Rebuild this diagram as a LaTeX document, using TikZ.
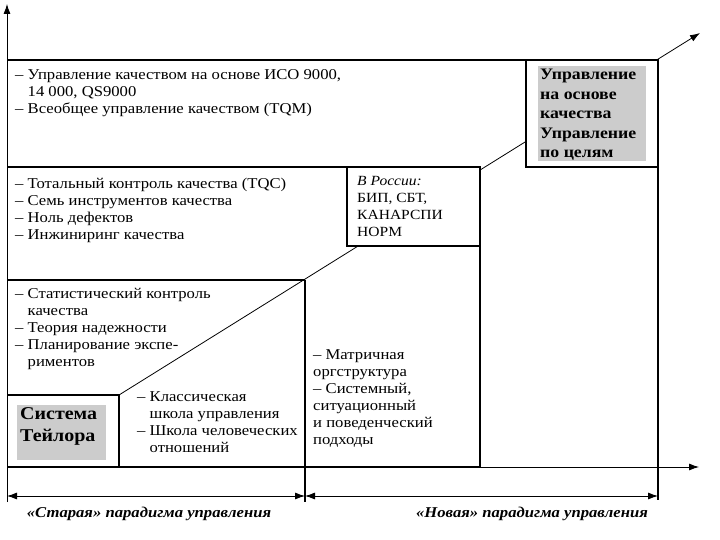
\documentclass[tikz,border=0pt]{standalone}
\usepackage{fontspec}
\setmainfont[FakeStretch=1.11]{Liberation Serif}
\usetikzlibrary{arrows.meta}

\tikzset{
  txt/.style={anchor=north west, inner sep=0pt, align=left,
    font=\fontsize{15}{17}\selectfont},
  frame/.style={line width=1.2pt},
  tip/.style={-{Latex[length=10pt,width=7pt]}},
  shade/.style={fill=black!20, draw=none},
}
\newcommand{\dsh}{\hphantom{-- }}

\begin{document}
\begin{tikzpicture}[x=1pt,y=-1pt]
  \useasboundingbox[fill=white] (0,0) rectangle (720,540);

  % axes
  \draw[tip, line width=0.8pt] (7,502) -- (7,4);
  \draw[tip, line width=0.8pt] (7,467) -- (699,467);
  \draw[line width=2.6pt] (7,467) -- (480,467);

  % stages of the staircase
  \draw[frame] (7,60) -- (526,60);
  \draw[frame] (7,167) -- (480,167);
  \draw[frame] (7,280) -- (305,280);
  \draw[frame] (7,395) -- (119,395) -- (119,467);
  \draw[frame] (305,280) -- (305,502);
  \draw[frame] (480,167) -- (480,467);
  \draw[frame] (658,60) -- (658,500);

  % growth line
  \coordinate (start) at (119,395);
  \coordinate (end) at (700,33);
  \draw[tip, line width=0.8pt] (start) -- (end);

  \draw[frame, fill=white] (347,167) rectangle (480,246);
  \draw[frame, fill=white] (526,60) rectangle (658,167);

  % shaded boxes
  \fill[shade] (538,66) rectangle (646,161);
  \fill[shade] (17,405) rectangle (106,460);

  % texts
  \node[txt] (iso) at (15,69) {-- Управление качеством на основе ИСО 9000,\\
    \dsh 14 000, QS9000\\-- Всеобщее управление качеством (TQM)};
  \node[txt] (tqc) at (15,178) {-- Тотальный контроль качества (TQC)\\
    -- Семь инструментов качества\\-- Ноль дефектов\\-- Инжиниринг качества};
  \node[txt, font=\fontsize{14}{17}\selectfont] (russia) at (357,176)
    {\textit{В России:}\\БИП, СБТ,\\КАНАРСПИ\\НОРМ};
  \node[txt] (stat) at (15,288) {-- Статистический контроль\\\dsh качества\\
    -- Теория надежности\\-- Планирование экспе-\\\dsh риментов};
  \node[txt] (school) at (137,391) {-- Классическая\\\dsh школа управления\\
    -- Школа человеческих\\\dsh отношений};
  \node[txt] (matrix) at (313,349) {-- Матричная\\оргструктура\\-- Системный,\\
    ситуационный\\и поведенческий\\подходы};
  \node[txt, font=\fontsize{16}{19.5}\selectfont\bfseries] (mbq) at (540,69)
    {Управление\\на основе\\качества\\Управление\\по целям};
  \node[txt, font=\fontsize{18}{22}\selectfont\bfseries] (taylor) at (20,407)
    {Система\\Тейлора};

  % paradigms
  \coordinate (a) at (7,496);
  \coordinate (b) at (305,496);
  \coordinate (c) at (658,496);
  \draw[{Latex[length=10pt,width=7pt]}-{Latex[length=10pt,width=7pt]}, line width=0.8pt] (a) -- (b);
  \draw[{Latex[length=10pt,width=7pt]}-{Latex[length=10pt,width=7pt]}, line width=0.8pt] (b) -- (c);
  \node[font=\fontsize{15}{17}\selectfont\bfseries\itshape] (old) at (149,514)
    {«Старая» парадигма управления};
  \node[font=\fontsize{15}{17}\selectfont\bfseries\itshape] (new) at (532,514)
    {«Новая» парадигма управления};
\end{tikzpicture}
\end{document}
